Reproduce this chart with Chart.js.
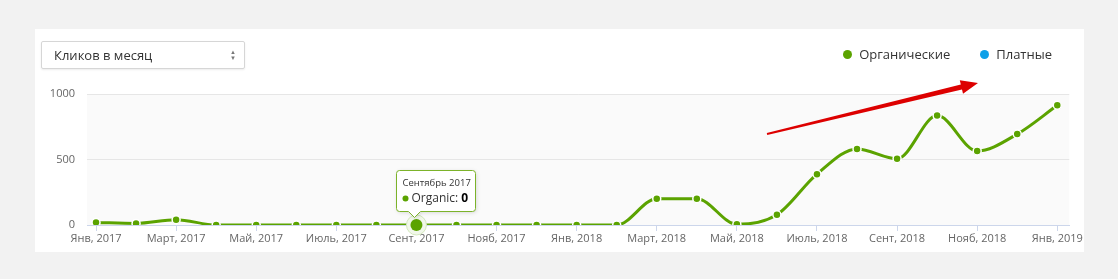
<!DOCTYPE html>
<html>
<head>
<meta charset="utf-8">
<script src="https://cdn.jsdelivr.net/npm/chart.js@4/dist/chart.umd.min.js"></script>
<style>
  html, body { margin: 0; padding: 0; background: #f2f2f2; font-family: "Open Sans", sans-serif; }
  #wrap { position: relative; width: 1118px; height: 279px; overflow: hidden; }
  #panel { position: absolute; left: 35px; top: 29px; width: 1049px; height: 223px; background: #fff; }
  #chart { position: absolute; left: 0; top: 0; }
  .select { position: absolute; left: 6px; top: 12px; width: 204px; height: 28px; box-sizing: border-box;
    border: 1px solid #d6d6d6; border-radius: 2px; box-shadow: 0 1px 2px rgba(0,0,0,.08);
    font-size: 13px; color: #333; line-height: 26px; padding-left: 12px; background: #fff; }
  .select .arr { position: absolute; right: 8px; top: 7px; font-size: 6px; line-height: 6px; color: #777; }
  .legend { position: absolute; top: 16px; right: 32px; font-size: 13px; color: #333; white-space: nowrap; }
  .legend span.item { display: inline-block; margin-left: 30px; }
  .legend i { display: inline-block; width: 9px; height: 9px; border-radius: 50%; margin-right: 7px; }
  #arrow { position: absolute; left: 0; top: 0; }
</style>
</head>
<body>
<div id="wrap">
  <div id="panel">
    <canvas id="chart" width="1049" height="223"></canvas>
    <div class="select">Кликов в месяц<span class="arr">▲<br>▼</span></div>
    <div class="legend" id="legend"></div>
  </div>
  <svg id="arrow" width="1118" height="279">
    <polygon fill="#dd0000" points="766.8,133 960.8,84.6 959.8,80.2 978,83 963,93.8 962,89.4 767.2,135"/>
  </svg>
</div>
<script>
// months Jan 2017 .. Jan 2019
const months = ['Янв, 2017', 'Фев, 2017', 'Март, 2017', 'Апр, 2017', 'Май, 2017', 'Июнь, 2017',
  'Июль, 2017', 'Авг, 2017', 'Сент, 2017', 'Окт, 2017', 'Нояб, 2017', 'Дек, 2017',
  'Янв, 2018', 'Фев, 2018', 'Март, 2018', 'Апр, 2018', 'Май, 2018', 'Июнь, 2018',
  'Июль, 2018', 'Авг, 2018', 'Сент, 2018', 'Окт, 2018', 'Нояб, 2018', 'Дек, 2018', 'Янв, 2019']
const organic = [20, 12, 40, 0, 0, 0, 0, 0, 0, 0, 0, 0, 0, 0,
  201, 201, 5, 78, 388, 581, 506, 835, 565, 694, 914]
const paid = []
const yTicks = [0, 500, 1000]
const seriesNames = ['Органические', 'Платные']
const seriesColors = ['#5ba300', '#0ea0e8']
const tooltipIndex = 8
const tooltipTitle = 'Сентябрь 2017'
const tooltipName = 'Organic'

const legend = document.getElementById('legend')
legend.innerHTML = seriesNames.map((n, i) =>
  '<span class="item"><i style="background:' + seriesColors[i] + '"></i>' + n + '</span>').join('')

const plotBg = {
  id: 'plotBg',
  beforeDraw (chart) {
    const a = chart.chartArea
    const ctx = chart.ctx
    ctx.save()
    ctx.fillStyle = '#fafafa'
    ctx.fillRect(a.left, a.top, a.right - a.left, a.bottom - a.top)
    ctx.restore()
  }
}

const hoverTip = {
  id: 'hoverTip',
  afterDatasetsDraw (chart) {
    const ctx = chart.ctx
    const pt = chart.getDatasetMeta(0).data[tooltipIndex]
    const x = pt.x
    const y = pt.y
    ctx.save()
    // halo + marker
    ctx.beginPath()
    ctx.arc(x, y, 10, 0, Math.PI * 2)
    ctx.fillStyle = '#f1f7ea'
    ctx.fill()
    ctx.strokeStyle = '#d3e8bd'
    ctx.lineWidth = 1
    ctx.stroke()
    ctx.beginPath()
    ctx.arc(x, y, 6, 0, Math.PI * 2)
    ctx.fillStyle = seriesColors[0]
    ctx.fill()

    // box
    ctx.font = '9.5px "Open Sans"'
    const tw = ctx.measureText(tooltipTitle).width
    ctx.font = '12px "Open Sans"'
    const nw = ctx.measureText(tooltipName + ': ').width
    ctx.font = 'bold 12px "Open Sans"'
    const vw = ctx.measureText(String(organic[tooltipIndex])).width
    const w = Math.round(Math.max(tw, nw + vw + 10) + 11)
    const h = 41
    const left = Math.round(x - 20) + 0.5
    const top = Math.round(y - 55) + 0.5
    const cx = left + 18
    ctx.shadowColor = 'rgba(0,0,0,0.15)'
    ctx.shadowBlur = 4
    ctx.shadowOffsetX = 1
    ctx.shadowOffsetY = 1
    ctx.beginPath()
    ctx.moveTo(left + 3, top)
    ctx.lineTo(left + w - 3, top)
    ctx.quadraticCurveTo(left + w, top, left + w, top + 3)
    ctx.lineTo(left + w, top + h - 3)
    ctx.quadraticCurveTo(left + w, top + h, left + w - 3, top + h)
    ctx.lineTo(cx + 6, top + h)
    ctx.lineTo(cx, top + h + 6)
    ctx.lineTo(cx - 6, top + h)
    ctx.lineTo(left + 3, top + h)
    ctx.quadraticCurveTo(left, top + h, left, top + h - 3)
    ctx.lineTo(left, top + 3)
    ctx.quadraticCurveTo(left, top, left + 3, top)
    ctx.closePath()
    ctx.fillStyle = '#fff'
    ctx.fill()
    ctx.shadowColor = 'transparent'
    ctx.strokeStyle = '#7cb32a'
    ctx.lineWidth = 1
    ctx.stroke()

    ctx.fillStyle = '#333'
    ctx.textBaseline = 'middle'
    ctx.font = '9.5px "Open Sans"'
    ctx.fillText(tooltipTitle, left + 6, top + 13)
    ctx.beginPath()
    ctx.arc(left + 9, top + 28, 3, 0, Math.PI * 2)
    ctx.fillStyle = seriesColors[0]
    ctx.fill()
    ctx.fillStyle = '#333'
    ctx.font = '12px "Open Sans"'
    ctx.fillText(tooltipName + ': ', left + 15, top + 28)
    ctx.font = 'bold 12px "Open Sans"'
    ctx.fillStyle = '#000'
    ctx.fillText(String(organic[tooltipIndex]), left + 15 + nw, top + 28)
    ctx.restore()
  }
}

const ctx = document.getElementById('chart').getContext('2d')
new Chart(ctx, {
  type: 'line',
  data: {
    datasets: [{
      label: seriesNames[0],
      data: organic.map((v, i) => ({ x: i, y: v })),
      borderColor: seriesColors[0],
      backgroundColor: seriesColors[0],
      borderWidth: 3,
      cubicInterpolationMode: 'monotone',
      pointRadius: 4,
      pointBorderColor: '#fff',
      pointBorderWidth: 1.5,
      fill: false
    }, {
      label: seriesNames[1],
      data: paid,
      borderColor: seriesColors[1],
      backgroundColor: seriesColors[1]
    }]
  },
  options: {
    responsive: false,
    animation: false,
    layout: { padding: { top: 65, right: 14, left: 0, bottom: 0 } },
    plugins: { legend: { display: false }, tooltip: { enabled: false } },
    scales: {
      x: {
        type: 'linear',
        min: -0.225,
        max: 24.3,
        afterFit: (s) => { s.height = 27 },
        afterBuildTicks: (s) => {
          s.ticks = months.map((m, i) => ({ value: i })).filter((t) => t.value % 2 === 0)
        },
        ticks: {
          autoSkip: false,
          maxRotation: 0,
          padding: 1,
          color: '#666',
          font: { family: 'Open Sans', size: 11 },
          callback: (v) => months[v]
        },
        grid: { drawOnChartArea: false, drawTicks: true, tickLength: 6, color: '#ccd6eb' },
        border: { display: true, color: '#ccd6eb' }
      },
      y: {
        min: 0,
        max: 1000,
        afterFit: (s) => { s.width = 52 },
        afterBuildTicks: (s) => { s.ticks = yTicks.map((v) => ({ value: v })) },
        ticks: {
          padding: 12,
          color: '#666',
          font: { family: 'Open Sans', size: 11 },
          callback: (v) => String(v)
        },
        grid: { color: '#e6e6e6', drawTicks: false },
        border: { display: false }
      }
    }
  },
  plugins: [plotBg, hoverTip]
})
</script>
</body>
</html>
